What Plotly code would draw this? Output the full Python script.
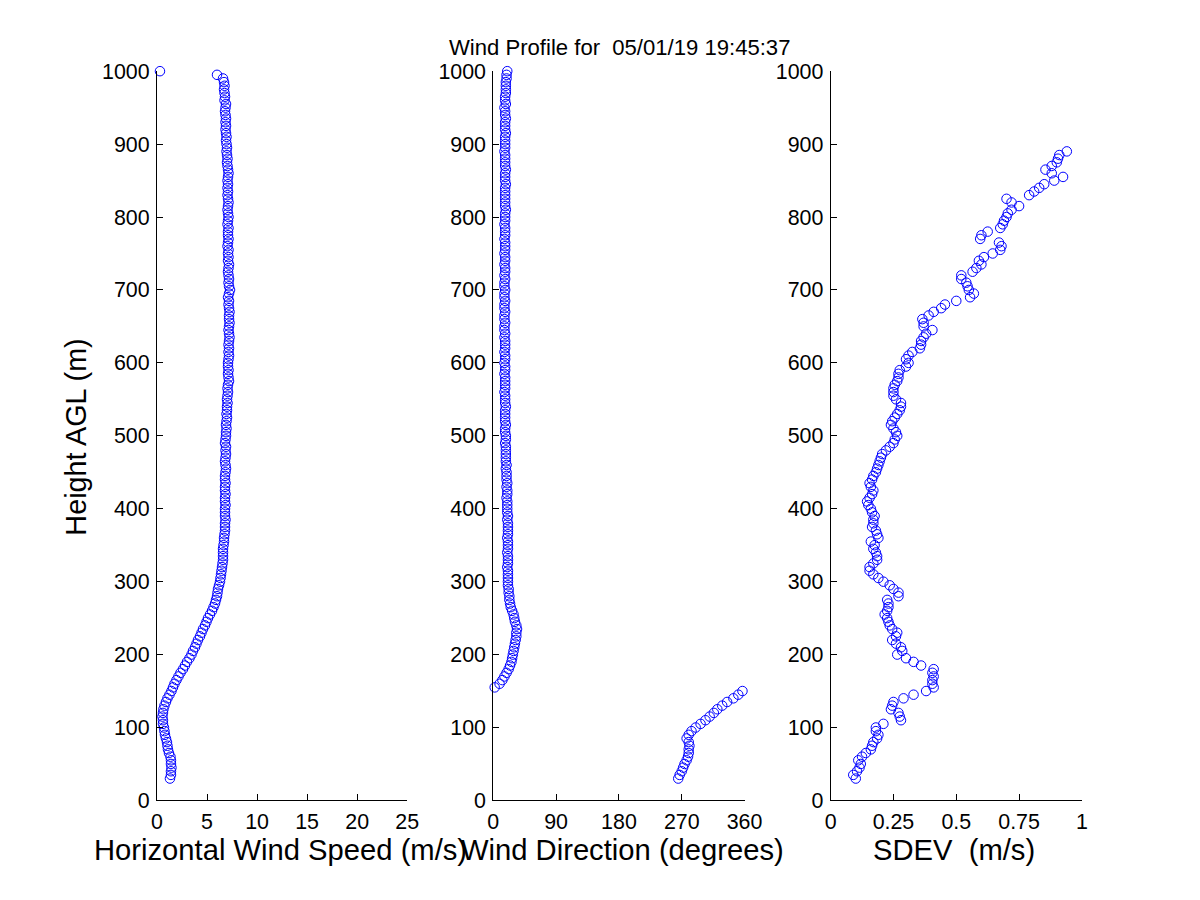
import plotly.graph_objects as go

# ---------------- data ----------------
heights = [
    30, 35, 40, 45, 50, 55, 60, 65, 70, 75,
    80, 85, 90, 95, 100, 105, 110, 115, 120, 125,
    130, 135, 140, 145, 150, 155, 160, 165, 170, 175,
    180, 185, 190, 195, 200, 205, 210, 215, 220, 225,
    230, 235, 240, 245, 250, 255, 260, 265, 270, 275,
    280, 285, 290, 295, 300, 305, 310, 315, 320, 325,
    330, 335, 340, 345, 350, 355, 360, 365, 370, 375,
    380, 385, 390, 395, 400, 405, 410, 415, 420, 425,
    430, 435, 440, 445, 450, 455, 460, 465, 470, 475,
    480, 485, 490, 495, 500, 505, 510, 515, 520, 525,
    530, 535, 540, 545, 550, 555, 560, 565, 570, 575,
    580, 585, 590, 595, 600, 605, 610, 615, 620, 625,
    630, 635, 640, 645, 650, 655, 660, 665, 670, 675,
    680, 685, 690, 695, 700, 705, 710, 715, 720, 725,
    730, 735, 740, 745, 750, 755, 760, 765, 770, 775,
    780, 785, 790, 795, 800, 805, 810, 815, 820, 825,
    830, 835, 840, 845, 850, 855, 860, 865, 870, 875,
    880, 885, 890, 895, 900, 905, 910, 915, 920, 925,
    930, 935, 940, 945, 950, 955, 960, 965, 970, 975,
    980, 985, 990, 995, 1000,
]

wind_speed = [
    1.3, 1.4, 1.4, 1.45, 1.4, 1.4, 1.35, 1.2, 1.1, 1.05,
    1.0, 0.9, 0.8, 0.75, 0.7, 0.6, 0.6, 0.55, 0.6, 0.65,
    0.75, 0.9, 1.05, 1.25, 1.45, 1.6, 1.75, 1.95, 2.15, 2.35,
    2.6, 2.8, 3.0, 3.25, 3.45, 3.6, 3.8, 3.95, 4.1, 4.3,
    4.45, 4.6, 4.8, 4.95, 5.1, 5.3, 5.5, 5.65, 5.8, 5.9,
    6.0, 6.05, 6.1, 6.2, 6.3, 6.35, 6.4, 6.45, 6.5, 6.55,
    6.6, 6.6, 6.6, 6.6, 6.65, 6.7, 6.7, 6.75, 6.8, 6.8,
    6.8, 6.85, 6.8, 6.8, 6.8, 6.85, 6.8, 6.8, 6.85, 6.8,
    6.8, 6.85, 6.8, 6.8, 6.85, 6.9, 6.85, 6.8, 6.85, 6.9,
    6.85, 6.9, 6.8, 6.85, 6.9, 6.9, 6.95, 6.9, 6.95, 7.0,
    6.95, 7.0, 7.0, 7.05, 7.0, 7.05, 7.1, 7.05, 7.1, 7.2,
    7.15, 7.1, 7.15, 7.1, 7.1, 7.15, 7.2, 7.15, 7.2, 7.15,
    7.2, 7.25, 7.2, 7.15, 7.2, 7.25, 7.2, 7.2, 7.25, 7.2,
    7.15, 7.2, 7.1, 7.2, 7.3, 7.2, 7.15, 7.2, 7.15, 7.1,
    7.15, 7.2, 7.1, 7.15, 7.1, 7.15, 7.05, 7.1, 7.15, 7.1,
    7.1, 7.15, 7.05, 7.1, 7.15, 7.1, 7.05, 7.1, 7.15, 7.1,
    7.05, 7.1, 7.05, 7.1, 7.05, 7.1, 7.15, 7.1, 7.05, 7.0,
    7.05, 7.0, 6.95, 7.0, 6.95, 6.9, 6.95, 6.9, 6.85, 6.9,
    6.85, 6.9, 6.85, 6.8, 6.85, 6.9, 6.75, 6.8, 6.75, 6.7,
    6.75, 6.7, 6.6, 6.0, 0.3,
]

wind_dir = [
    265, 267, 270, 272, 274, 277, 279, 280, 280, 281,
    280, 277, 280, 284, 290, 297, 304, 310, 316, 321,
    328, 335, 344, 351, 357, 2, 9, 13, 16, 19,
    22, 24, 26, 27, 28, 29, 30, 31, 32, 33,
    33, 34, 33, 31, 30, 29, 27, 25, 24, 23,
    23, 22, 22, 21, 21, 21, 21, 21, 20, 21,
    21, 21, 20, 21, 21, 21, 20, 21, 21, 21,
    21, 20, 21, 20, 20, 20, 20, 19, 20, 20,
    19, 20, 19, 19, 19, 18, 19, 18, 18, 18,
    18, 18, 17, 18, 18, 17, 17, 18, 17, 17,
    17, 17, 18, 17, 17, 17, 16, 17, 17, 17,
    17, 16, 17, 17, 16, 17, 17, 16, 17, 17,
    17, 16, 17, 16, 16, 17, 16, 16, 17, 16,
    16, 17, 16, 16, 17, 16, 16, 17, 16, 17,
    17, 16, 17, 17, 16, 17, 17, 17, 16, 17,
    17, 17, 16, 17, 17, 17, 18, 17, 17, 17,
    17, 17, 17, 18, 17, 17, 17, 18, 17, 17,
    17, 17, 16, 17, 17, 17, 17, 18, 17, 17,
    17, 18, 17, 17, 16, 18, 17, 17, 18, 18,
    18, 18, 19, 19, 20,
]

# SDEV only reported from 30 m to 890 m
sdev = [
    0.10, 0.09, 0.105, 0.115, 0.12, 0.11, 0.125, 0.14, 0.16, 0.165,
    0.17, 0.185, 0.19, 0.18, 0.18, 0.21, 0.28, 0.275, 0.27, 0.24,
    0.245, 0.25, 0.29, 0.33, 0.38, 0.41, 0.405, 0.405, 0.41, 0.405,
    0.41, 0.36, 0.33, 0.30, 0.265, 0.285, 0.28, 0.26, 0.245, 0.26,
    0.265, 0.245, 0.235, 0.23, 0.225, 0.215, 0.225, 0.23, 0.23, 0.225,
    0.27, 0.27, 0.25, 0.235, 0.21, 0.19, 0.17, 0.155, 0.155, 0.17,
    0.185, 0.185, 0.18, 0.17, 0.175, 0.16, 0.19, 0.185, 0.18, 0.165,
    0.17, 0.17, 0.175, 0.165, 0.16, 0.15, 0.145, 0.155, 0.165, 0.17,
    0.16, 0.155, 0.165, 0.17, 0.18, 0.185, 0.19, 0.195, 0.2, 0.205,
    0.22, 0.235, 0.25, 0.255, 0.265, 0.26, 0.25, 0.24, 0.245, 0.255,
    0.265, 0.275, 0.28, 0.28, 0.26, 0.25, 0.25, 0.25, 0.255, 0.265,
    0.27, 0.27, 0.275, 0.30, 0.31, 0.30, 0.31, 0.325, 0.355, 0.36,
    0.36, 0.37, 0.38, 0.405, 0.37, 0.37, 0.365, 0.39, 0.41, 0.44,
    0.455, 0.50, 0.555, 0.57, 0.55, 0.545, 0.54, 0.52, 0.52, 0.565,
    0.58, 0.60, 0.59, 0.61, 0.645, 0.675, 0.68, 0.67, 0.595, 0.60,
    0.625, 0.675, 0.685, 0.69, 0.70, 0.705, 0.72, 0.75, 0.72, 0.70,
    0.79, 0.81, 0.83, 0.85, 0.89, 0.925, 0.88, 0.855, 0.88, 0.90,
    0.905, 0.91, 0.94,
]

y_ticks = [0, 100, 200, 300, 400, 500, 600, 700, 800, 900, 1000]
speed_ticks = [0, 5, 10, 15, 20, 25]
dir_ticks = [0, 90, 180, 270, 360]
sdev_ticks = [0, 0.25, 0.5, 0.75, 1]
sdev_tick_text = ["0", "0.25", "0.5", "0.75", "1"]

title_text = "Wind Profile for\u00a0 05/01/19 19:45:37"
speed_label = "Horizontal Wind Speed (m/s)"
dir_label = "Wind Direction (degrees)"
sdev_label = "SDEV\u00a0 (m/s)"
height_label = "Height AGL (m)"

# ---------------- figure ----------------
W, H = 1200, 900
FONT = "Liberation Sans, Arial, Helvetica, sans-serif"
BLUE = "rgb(0,0,255)"

# the photographed page comes out slightly scaled/offset; map target pixels to css pixels
SX, OX = 0.979, 6.2
SY, OY = 0.977, 9.6


def cx(px):
    return (px - OX) / SX


def cy(py):
    return (py - OY) / SY


marker = dict(symbol="circle-open", size=9.5, color=BLUE, line=dict(width=1, color=BLUE))

fig = go.Figure()
fig.add_trace(go.Scatter(x=wind_speed, y=heights, mode="markers", marker=marker,
                         xaxis="x", yaxis="y", cliponaxis=False, showlegend=False,
                         hoverinfo="skip"))
fig.add_trace(go.Scatter(x=wind_dir, y=heights, mode="markers", marker=marker,
                         xaxis="x2", yaxis="y2", cliponaxis=False, showlegend=False,
                         hoverinfo="skip"))
fig.add_trace(go.Scatter(x=sdev, y=heights[:len(sdev)], mode="markers", marker=marker,
                         xaxis="x3", yaxis="y3", cliponaxis=False, showlegend=False,
                         hoverinfo="skip"))

y_dom = [1 - cy(801) / H, 1 - cy(69) / H]
x_doms = [[cx(157) / W, cx(407) / W], [cx(493) / W, cx(744) / W], [cx(830) / W, cx(1081) / W]]

tickfont = dict(family=FONT, size=21.4, color="black")
common_axis = dict(showline=True, linecolor="black", linewidth=1, ticks="inside",
                   ticklen=6, tickwidth=1, tickcolor="black", showgrid=False,
                   zeroline=False, mirror=False, tickfont=tickfont, fixedrange=True,
                   ticklabelstandoff=2)

layout = dict(
    width=W, height=H,
    margin=dict(l=0, r=0, t=0, b=0),
    paper_bgcolor="white", plot_bgcolor="white",
    font=dict(family=FONT, color="black"),
    showlegend=False,
    hovermode=False,
)

x_specs = [
    ([0, 25], speed_ticks, [str(v) for v in speed_ticks]),
    ([0, 360], dir_ticks, [str(v) for v in dir_ticks]),
    ([0, 1], sdev_ticks, sdev_tick_text),
]
for i, (rng, tv, tt) in enumerate(x_specs):
    sfx = "" if i == 0 else str(i + 1)
    layout["xaxis" + sfx] = dict(common_axis, domain=x_doms[i], range=rng,
                                  tickmode="array", tickvals=tv, ticktext=tt,
                                  anchor="y" + sfx)
    layout["yaxis" + sfx] = dict(common_axis, domain=y_dom, range=[0, 1000],
                                  tickmode="array", tickvals=y_ticks,
                                  ticktext=[str(v) for v in y_ticks],
                                  anchor="x" + sfx)

fig.update_layout(**layout)


def px_annot(text, x, y, size, angle=0):
    fig.add_annotation(text=text, x=cx(x) / W, y=1 - cy(y) / H, xref="paper", yref="paper",
                       xanchor="center", yanchor="middle", showarrow=False,
                       textangle=angle, font=dict(family=FONT, size=size, color="black"))


px_annot(title_text, 619, 45, 22.1)
px_annot(speed_label, 280, 851, 29.2)
px_annot(dir_label, 622, 851, 29.2)
px_annot(sdev_label, 953, 851, 29.2)
px_annot(height_label, 76, 436, 28.8, angle=-90)

fig.write_html(
    "out.html",
    config={"displayModeBar": False, "staticPlot": True},
    post_script="document.body.style.margin='0';document.documentElement.style.overflow='hidden';",
)
